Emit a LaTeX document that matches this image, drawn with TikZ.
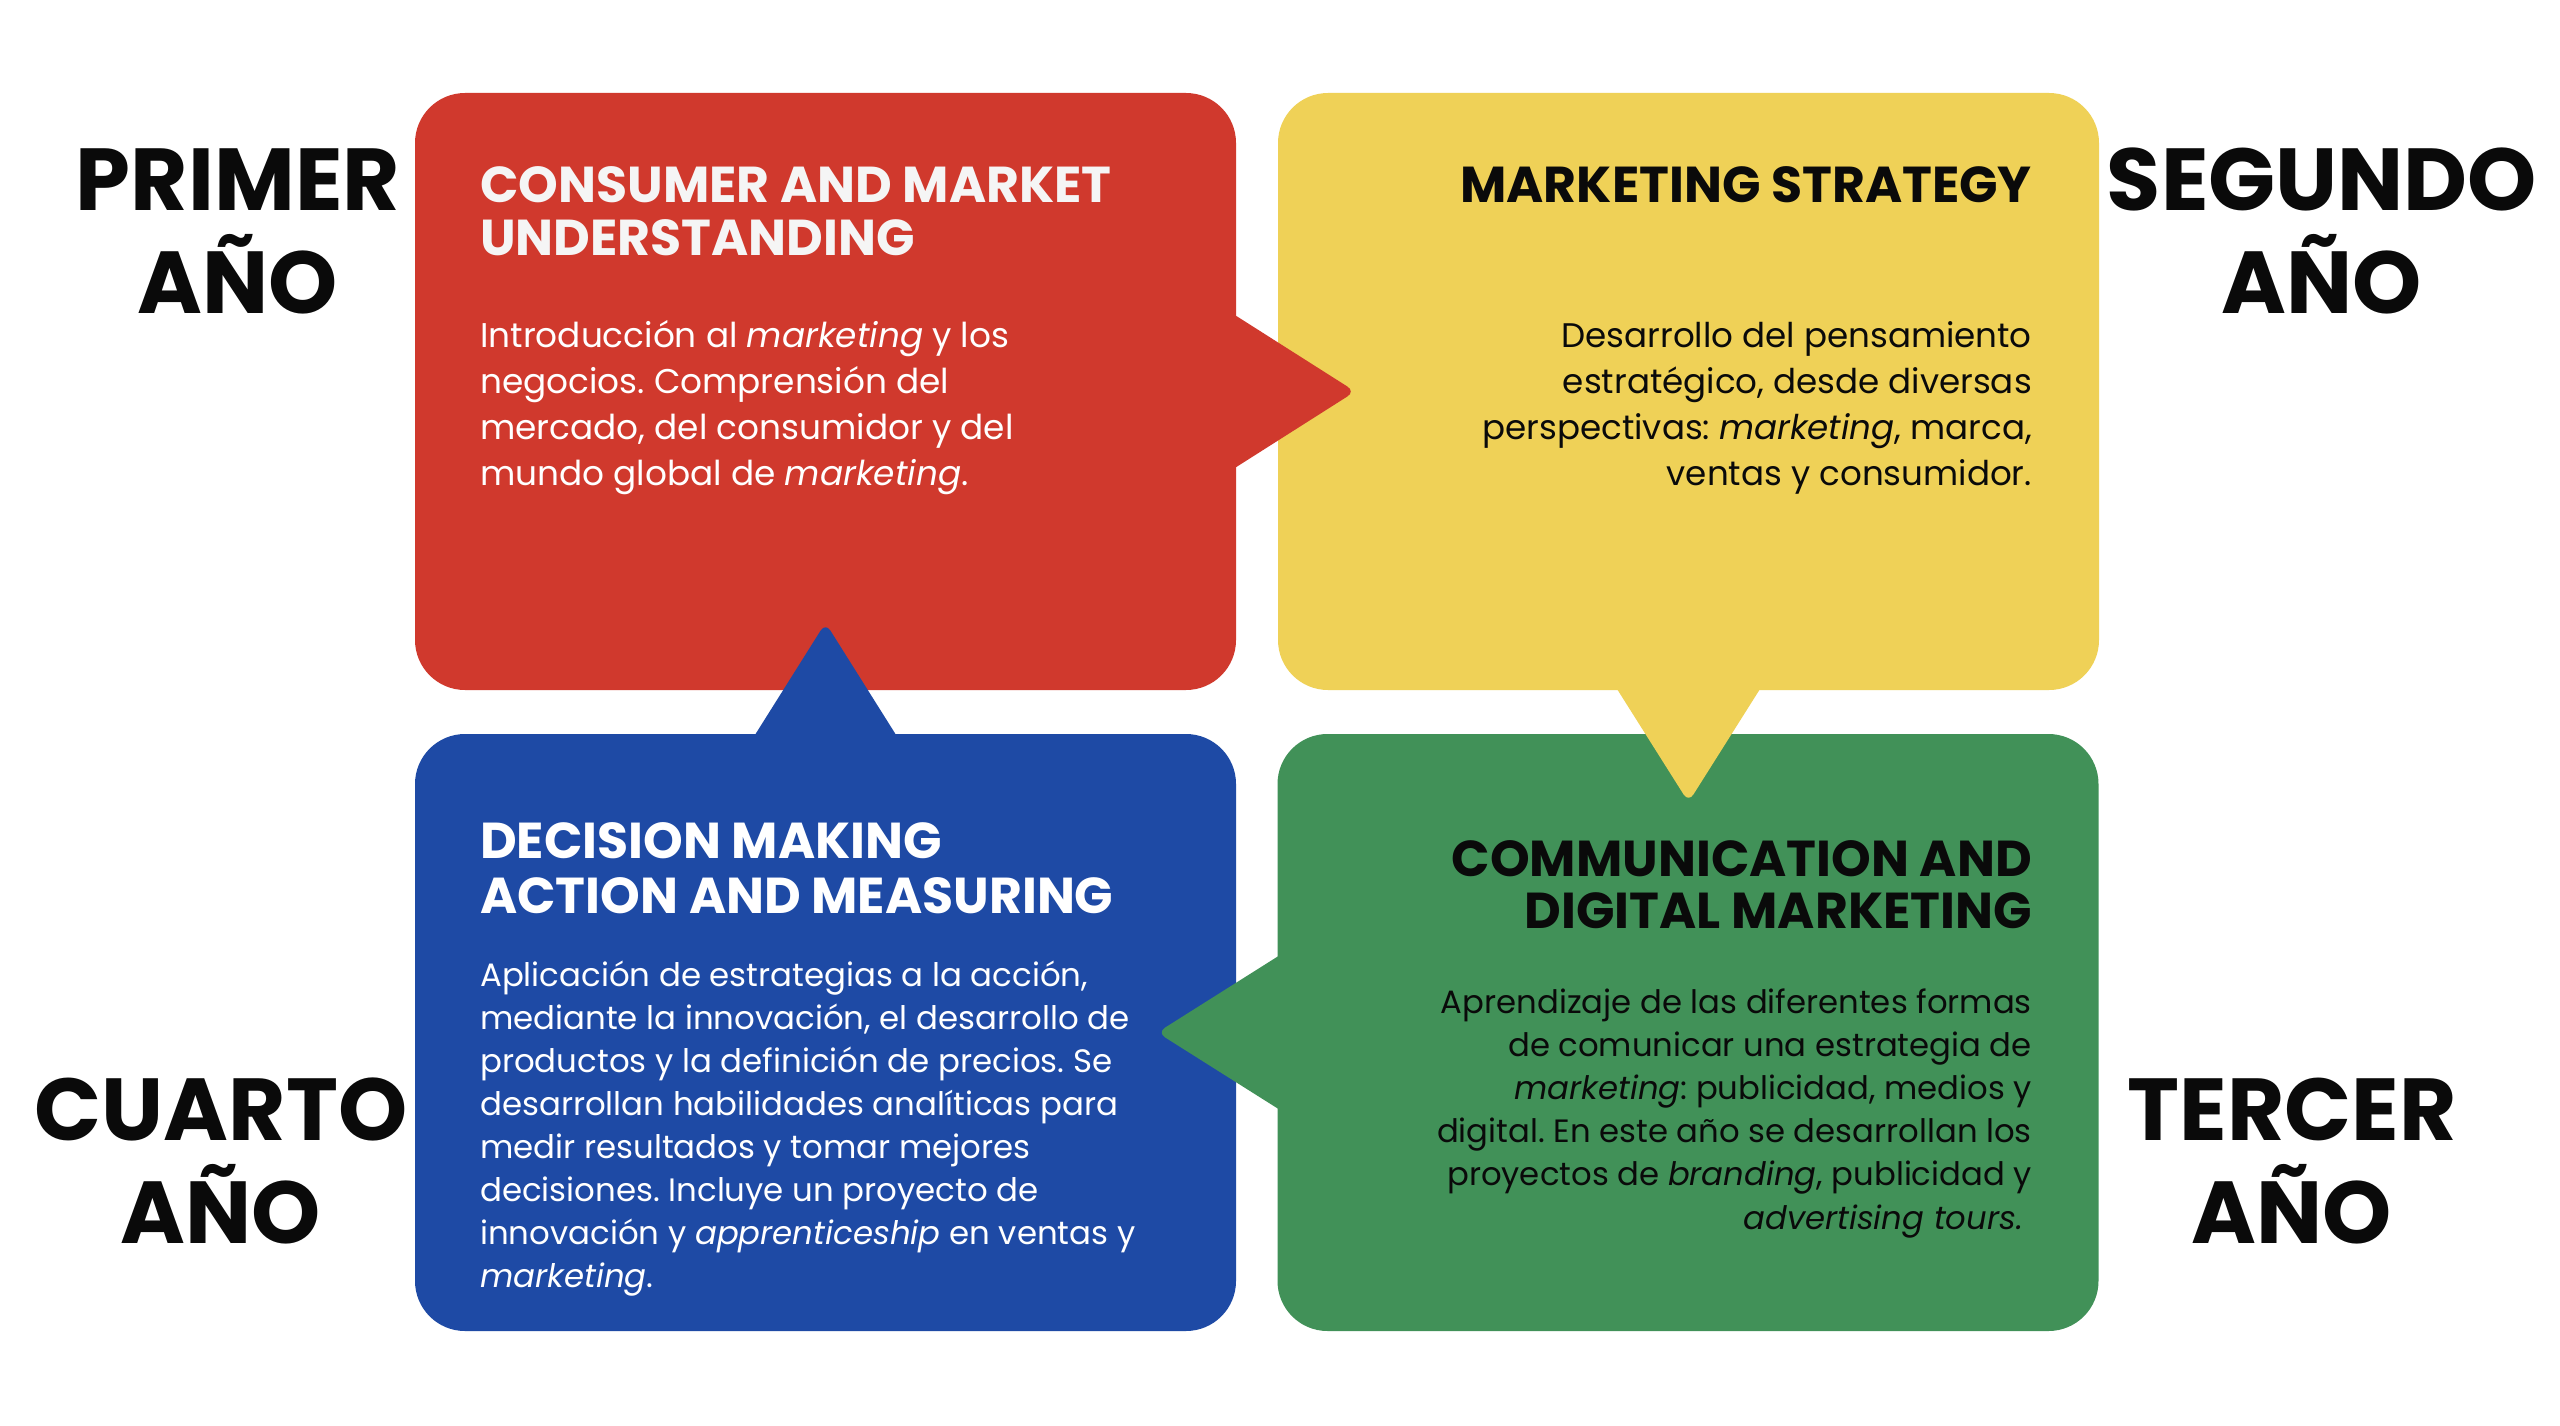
\documentclass[tikz,border=0pt]{standalone}
\usepackage{fontspec}
\setmainfont{Poppins}
\usetikzlibrary{calc}
\definecolor{cRed}{HTML}{D0392D}
\definecolor{cYel}{HTML}{EFD157}
\definecolor{cBlu}{HTML}{1E4AA5}
\definecolor{cGrn}{HTML}{419158}
\definecolor{cInk}{HTML}{0A0A0A}
\definecolor{cWht}{HTML}{F5F5F5}
\newcommand\linesL[1]{\vtop{\halign{##\hfil\cr#1\crcr}}}
\newcommand\linesR[1]{\vtop{\halign{\hfil##\cr#1\crcr}}}
\newcommand\linesC[1]{\vtop{\halign{\hfil##\hfil\cr#1\crcr}}}
\begin{document}
\frenchspacing
\begin{tikzpicture}[x=1pt,y=-1pt,
  box/.style={rectangle, rounded corners=50pt, minimum width=821pt, minimum height=597pt, inner sep=0pt, draw=none},
  ptr/.style={rounded corners=9pt},
  yearlbl/.style={inner sep=0pt, anchor=base, text=cInk, font=\fontsize{88}{103}\selectfont\bfseries},
  ttlL/.style={inner sep=0pt, anchor=base west, font=\fontsize{50.5}{53}\selectfont\bfseries},
  ttlR/.style={inner sep=0pt, anchor=base east, font=\fontsize{50.5}{53}\selectfont\bfseries},
  bodyL/.style={inner sep=0pt, anchor=base west, font=\fontsize{34.3}{46}\selectfont\frenchspacing},
  bodyR/.style={inner sep=0pt, anchor=base east, font=\fontsize{34.1}{46}\selectfont\frenchspacing}
]
\useasboundingbox (0,0) rectangle (2560,1426);
\fill[white] (0,0) rectangle (2560,1426);

% boxes
\node[box, fill=cRed] (red) at (825.5,391.5) {};
\node[box, fill=cYel] (yel) at (1688.5,391.5) {};
\node[box, fill=cBlu] (blu) at (825.5,1032.5) {};
\node[box, fill=cGrn] (grn) at (1688,1032.5) {};

% pointers
\coordinate (rtip) at ($(red.east)+(119,0)$);
\fill[cRed, ptr] (rtip) -- ($(red.east)+(-40,-101)$) -- ($(red.east)+(-40,101)$) -- cycle;
\coordinate (btip) at ($(blu.north)+(0,-111)$);
\fill[cBlu, ptr] (btip) -- ($(blu.north)+(-95,40)$) -- ($(blu.north)+(95,40)$) -- cycle;
\coordinate (ytip) at ($(yel.south)+(0,112)$);
\fill[cYel, ptr] (ytip) -- ($(yel.south)+(-96,-40)$) -- ($(yel.south)+(96,-40)$) -- cycle;
\coordinate (gtip) at ($(grn.west)+(-120,0)$);
\fill[cGrn, ptr] (gtip) -- ($(grn.west)+(40,-101)$) -- ($(grn.west)+(40,101)$) -- cycle;

% year labels
\node[yearlbl] (y1) at (238,211) {\linesC{PRIMER\cr AÑO}};
\node[yearlbl] (y2) at (2322,211) {\linesC{SEGUNDO\cr AÑO}};
\node[yearlbl] (y4) at (221,1140) {\linesC{CUARTO\cr AÑO}};
\node[yearlbl] (y3) at (2292,1140) {\linesC{TERCER\cr AÑO}};

% red
\node[ttlL, text=cWht] (rt) at (480,202) {\linesL{CONSUMER AND MARKET\cr UNDERSTANDING}};
\node[bodyL, text=white] (rb) at (480,347) {\linesL{Introducción al \textit{marketing} y los\cr negocios. Comprensión del\cr mercado, del consumidor y del\cr mundo global de \textit{marketing}.}};

% yellow
\node[ttlR, text=cInk] (yt) at (2032,202) {\linesR{MARKETING STRATEGY}};
\node[bodyR, text=cInk] (yb) at (2032,347) {\linesR{Desarrollo del pensamiento\cr estratégico, desde diversas\cr perspectivas: \textit{marketing}, marca,\cr ventas y consumidor.}};

% blue
\node[ttlL, text=white, font=\fontsize{50.5}{55}\selectfont\bfseries] (bt) at (480,858) {\linesL{DECISION MAKING\cr ACTION AND MEASURING}};
\node[bodyL, text=white, font=\fontsize{32.4}{43}\selectfont\frenchspacing] (bb) at (480,986) {\linesL{Aplicación de estrategias a la acción,\cr mediante la innovación, el desarrollo de\cr productos y la definición de precios. Se\cr desarrollan habilidades analíticas para\cr medir resultados y tomar mejores\cr decisiones. Incluye un proyecto de\cr innovación y \textit{apprenticeship} en ventas y\cr \textit{marketing}.}};

% green
\node[ttlR, text=cInk, font=\fontsize{50.5}{52}\selectfont\bfseries] (gt) at (2032,876) {\linesR{COMMUNICATION AND\cr DIGITAL MARKETING}};
\node[bodyR, text=cInk, font=\fontsize{32.3}{43.2}\selectfont\frenchspacing] (gb) at (2032,1013) {\linesR{Aprendizaje de las diferentes formas\cr de comunicar una estrategia de\cr \textit{marketing}: publicidad, medios y\cr digital. En este año se desarrollan los\cr proyectos de \textit{branding}, publicidad y\cr \textit{advertising tours.}\hspace{9pt}}};
\end{tikzpicture}
\end{document}
